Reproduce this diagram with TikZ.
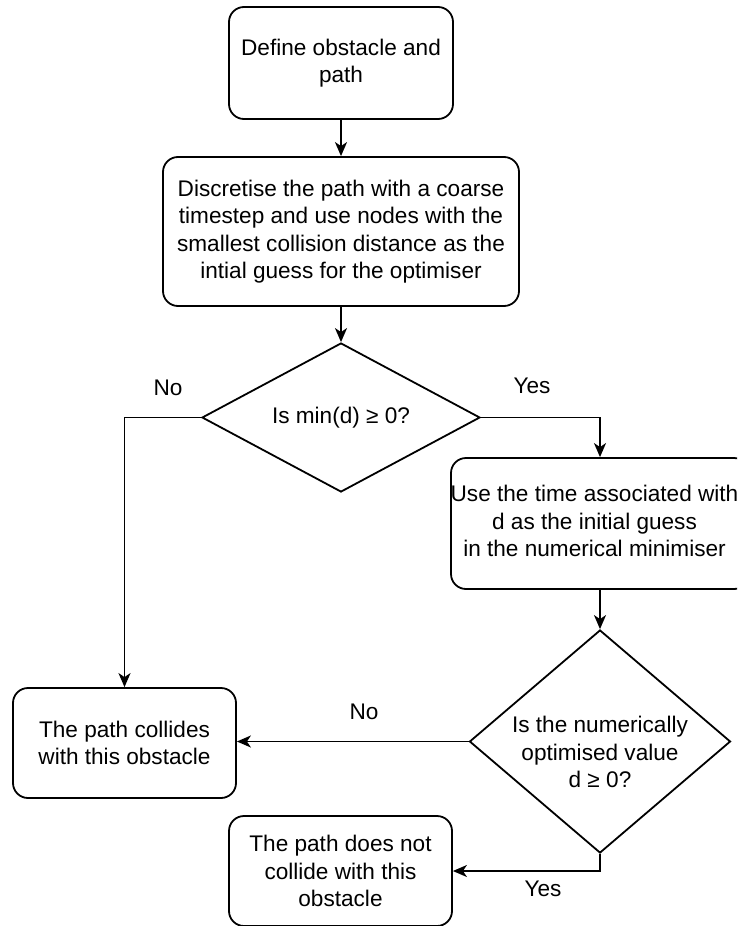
\documentclass[tikz,border=0pt]{standalone}
\usepackage{fontspec}
\setmainfont{Liberation Sans}
\usetikzlibrary{shapes.geometric,arrows.meta}
\begin{document}
\begin{tikzpicture}[x=1pt,y=-1pt,
  every node/.style={font=\fontsize{22.6}{27.5}\selectfont},
  box/.style={draw, line width=1.8pt, rounded corners=15pt, inner sep=0pt, align=center},
  dia/.style={draw, line width=1.8pt, shape=diamond, inner sep=0pt},
  lbl/.style={inner sep=0pt, align=center},
  conn/.style={line width=1.8pt, -{Stealth[length=14pt,width=12pt,inset=4pt]}}
]
\useasboundingbox (0,0) rectangle (737,926);
\clip (0,0) rectangle (737,926);

\node[box, minimum width=224pt, minimum height=112pt] (b1) at (341,63) {Define obstacle and\\path};
\node[box, minimum width=356pt, minimum height=149pt] (b2) at (341,231.5) {Discretise the path with a coarse\\timestep and use nodes with the\\smallest collision distance as the\\intial guess for the optimiser};
\node[dia, minimum width=278pt, minimum height=149pt] (d1) at (341,417.5) {};
\node[lbl] (d1t) at (341,418) {Is min(d) ≥ 0?};
\node[box, minimum width=298pt, minimum height=131pt] (b4) at (600,523.5) {};
\node[lbl] (b4t) at (594.5,521) {Use the time associated with\\d as the initial guess\\in the numerical minimiser};
\node[dia, minimum width=261pt, minimum height=223pt] (d2) at (600,741.5) {};
\node[lbl] (d2t) at (600,752) {Is the numerically\\optimised value\\d ≥ 0?};
\node[box, minimum width=223pt, minimum height=110pt] (b3) at (124.5,743) {The path collides\\with this obstacle};
\node[box, minimum width=223pt, minimum height=110pt] (b5) at (340.5,871) {The path does not\\collide with this\\obstacle};

\node[lbl] (no1) at (168,388) {No};
\node[lbl] (yes1) at (532,386) {Yes};
\node[lbl] (no2) at (364,712) {No};
\node[lbl] (yes2) at (543,889) {Yes};

\draw[conn] (b1) -- (b2);
\draw[conn] (b2) -- (d1);
\draw[conn] (d1.west) -| (b3.north);
\draw[conn] (d1.east) -| (b4.north);
\draw[conn] (b4) -- (d2);
\draw[conn] (d2.west) -- (d2.west -| b3.east);
\draw[conn] (d2.south) |- (b5.east);
\end{tikzpicture}
\end{document}
